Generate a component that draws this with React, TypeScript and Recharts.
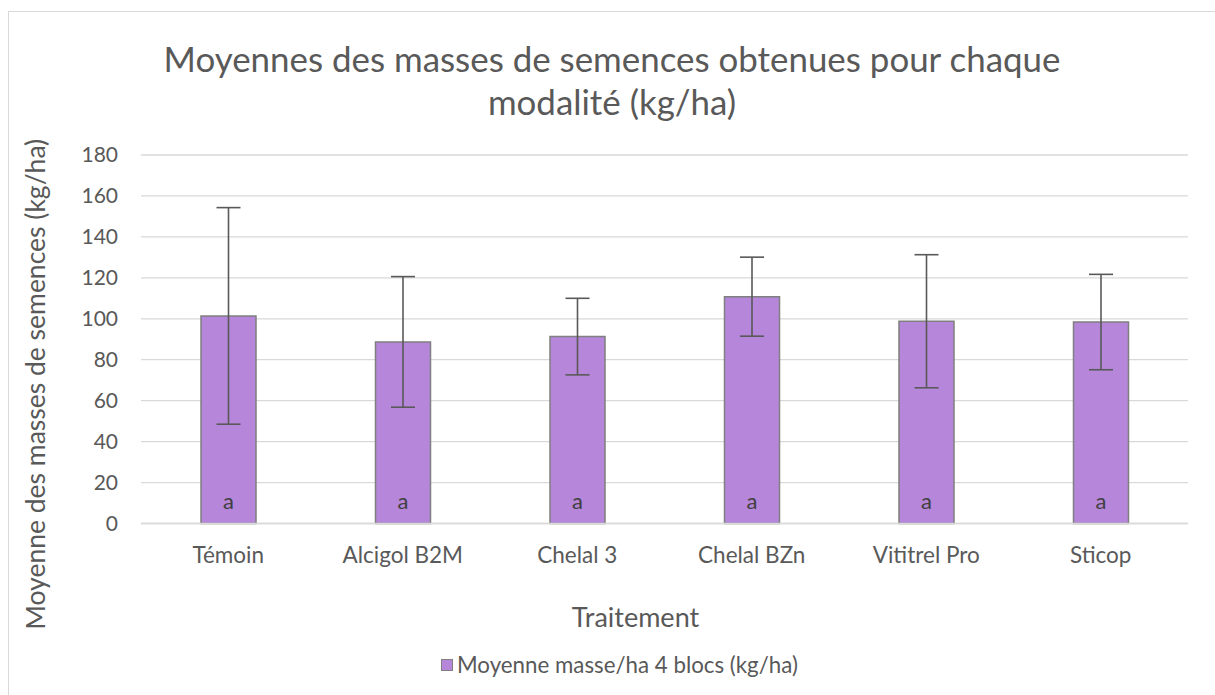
import React from 'react';
import { BarChart, Bar, XAxis, YAxis, CartesianGrid, ErrorBar, LabelList } from 'recharts';

const categories = ['Témoin', 'Alcigol B2M', 'Chelal 3', 'Chelal BZn', 'Vititrel Pro', 'Sticop'];
const means = [101.4, 88.7, 91.3, 110.8, 98.8, 98.4];
const errors = [52.9, 31.9, 18.7, 19.3, 32.5, 23.3];
const groupLetters = ['a', 'a', 'a', 'a', 'a', 'a'];
const yTicks = [0, 20, 40, 60, 80, 100, 120, 140, 160, 180];

const seriesName = 'Moyenne masse/ha 4 blocs (kg/ha)';
const titleLines = ['Moyennes des masses de semences obtenues pour chaque', 'modalité (kg/ha)'];
const yTitle = 'Moyenne des masses de semences (kg/ha)';
const xTitle = 'Traitement';

const data = categories.map((c, i) => ({ name: c, value: means[i], err: errors[i], letter: groupLetters[i] }));

const FONT = 'Lato, "Noto Sans", sans-serif';
const TEXT = '#595959';

const LetterLabel = (props: any) => {
  const { x, y, width, height, value } = props;
  return (
    <text x={x + width / 2} y={y + height - 23} textAnchor="middle" dominantBaseline="central" fill="#404040" fontSize={22} fontFamily={FONT}>
      {value}
    </text>
  );
};

const YTitle = (props: any) => {
  const vb = props.viewBox || {};
  const cx = 35;
  const cy = vb.y + vb.height / 2 + 45;
  return (
    <text x={cx} y={cy} transform={`rotate(-90, ${cx}, ${cy})`} textAnchor="middle" dominantBaseline="central" fill={TEXT} fontSize={26.5} fontFamily={FONT}>
      {yTitle}
    </text>
  );
};

const XTitle = (props: any) => {
  const vb = props.viewBox || {};
  const cx = vb.x + vb.width / 2 - 29;
  return (
    <text x={cx} y={616} textAnchor="middle" dominantBaseline="central" fill={TEXT} fontSize={27} fontFamily={FONT}>
      {xTitle}
    </text>
  );
};

export default function App() {
  return (
    <div style={{ position: 'absolute', left: 0, top: 0, width: 1215, height: 695, overflow: 'hidden', background: '#fff', fontFamily: FONT }}>
      <div style={{ position: 'absolute', left: 8, top: 11, width: 1400, height: 900, border: '1.5px solid #d9d9d9', boxSizing: 'border-box' }} />
      <div style={{ position: 'absolute', left: 0, top: 37, width: 1224, textAlign: 'center', fontSize: 34.9, lineHeight: '43px', color: TEXT }}>
        {titleLines.map((t) => (
          <div key={t}>{t}</div>
        ))}
      </div>
      <div style={{ position: 'absolute', left: 441, top: 651, display: 'flex', alignItems: 'center', fontFamily: FONT, fontSize: 22.3, color: TEXT, whiteSpace: 'nowrap' }}>
        <span style={{ display: 'inline-block', width: 12, height: 12, background: '#B586D9', border: '1.5px solid #7F7F7F', boxSizing: 'border-box', marginRight: 4 }} />
        <span>{seriesName}</span>
      </div>
      <div style={{ position: 'absolute', left: 0, top: 0 }}>
        <BarChart width={1215} height={695} data={data} margin={{ top: 155, right: 27, bottom: 141.5, left: 81 }} barCategoryGap="34%">
          <CartesianGrid vertical={false} stroke="#d9d9d9" strokeWidth={1.3} />
          <XAxis
            dataKey="name"
            interval={0}
            tickLine={false}
            axisLine={{ stroke: '#d9d9d9', strokeWidth: 1.3 }}
            tickSize={0}
            tickMargin={24}
            height={30}
            tick={{ fill: TEXT, fontSize: 22.5, fontFamily: FONT }}
            label={<XTitle />}
          />
          <YAxis
            domain={[0, 180]}
            ticks={yTicks}
            width={60}
            axisLine={false}
            tickLine={false}
            tickSize={0}
            tickMargin={23}
            tick={{ fill: TEXT, fontSize: 21, fontFamily: FONT }}
            label={<YTitle />}
          />
          <Bar dataKey="value" name={seriesName} fill="#B586D9" stroke="#7F7F7F" strokeWidth={1.5} barSize={55} isAnimationActive={false}>
            <ErrorBar dataKey="err" width={12} stroke="#595959" strokeWidth={1.6} direction="y" />
            <LabelList dataKey="letter" content={<LetterLabel />} />
          </Bar>
        </BarChart>
      </div>
    </div>
  );
}
